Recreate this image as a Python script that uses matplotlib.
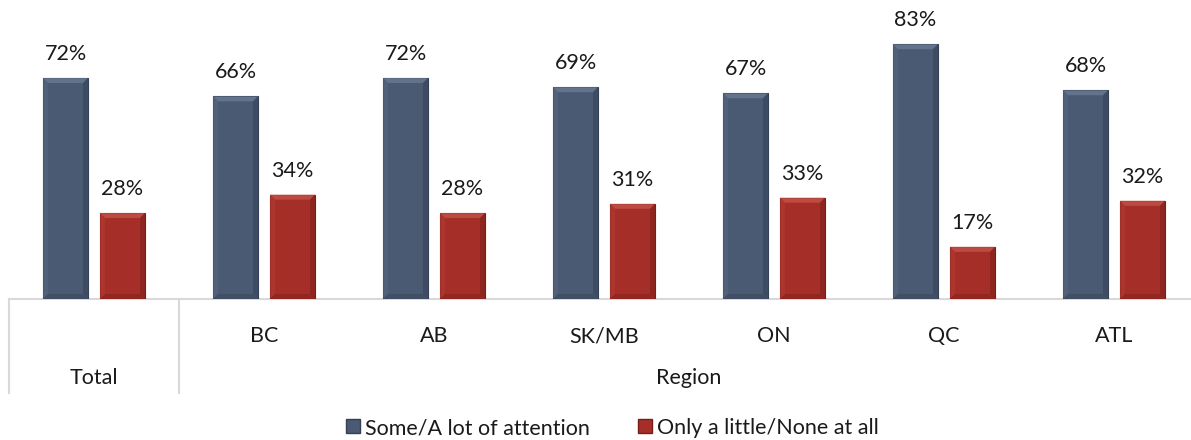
import matplotlib
matplotlib.use("Agg")
import matplotlib.pyplot as plt
from matplotlib.patches import Polygon
from matplotlib.lines import Line2D

plt.rcParams['font.family'] = ['Lato', 'DejaVu Sans']

categories = ["Total", "BC", "AB", "SK/MB", "ON", "QC", "ATL"]
groups = [("Total", 0, 1), ("Region", 1, 7)]
series_names = ["Some/A lot of attention", "Only a little/None at all"]
attention = [72, 66, 72, 69, 67, 83, 68]
little_none = [28, 34, 28, 31, 33, 17, 32]

palette = {
    "blue": dict(main="#4a5a72", top="#6f7f96", left="#55657d", right="#3a475d", bottom="#3e4b61", edge="#334055"),
    "red": dict(main="#a52e28", top="#c9584e", left="#af3831", right="#85221d", bottom="#8a231e", edge="#7a1c18"),
}

W, H = 1191, 440
fig = plt.figure(figsize=(W / 100, H / 100), dpi=100)
left_px, right_px, base_px, top_px = 9, 1199, 299, 10
ax = fig.add_axes([left_px / W, 1 - base_px / H, (right_px - left_px) / W, (base_px - top_px) / H])
ax.set_xlim(0, len(categories))
px_per_pct = 3.07
ax.set_ylim(0, (base_px - top_px) / px_per_pct)
ax.axis("off")

xunit = (right_px - left_px) / len(categories)  # pixels per category
bar_w = 45 / xunit
offset = 28.5 / xunit
bev_x = 5 / xunit
bev_y = 5 / px_per_pct


def bevel_bar(x0, h, col):
    c = palette[col]
    ax.bar(x0, h, width=bar_w, align="edge", color=c["main"], edgecolor=c["edge"], linewidth=0.8, zorder=2)
    x1 = x0 + bar_w
    faces = [
        ([(x0, h), (x1, h), (x1 - bev_x, h - bev_y), (x0 + bev_x, h - bev_y)], c["top"]),
        ([(x0, 0), (x0, h), (x0 + bev_x, h - bev_y), (x0 + bev_x, bev_y)], c["left"]),
        ([(x1, 0), (x1, h), (x1 - bev_x, h - bev_y), (x1 - bev_x, bev_y)], c["right"]),
        ([(x0, 0), (x1, 0), (x1 - bev_x, bev_y), (x0 + bev_x, bev_y)], c["bottom"]),
    ]
    for pts, fc in faces:
        ax.add_patch(Polygon(pts, closed=True, facecolor=fc, edgecolor="none", zorder=3, alpha=0.7))


for i, (a, b) in enumerate(zip(attention, little_none)):
    cx = i + 0.5
    bevel_bar(cx - offset - bar_w / 2, a, "blue")
    bevel_bar(cx + offset - bar_w / 2, b, "red")
    for xc, v in ((cx - offset, a), (cx + offset, b)):
        ax.annotate(f"{v}%", (xc, v), xytext=(0, 10), textcoords="offset points",
                    ha="center", va="bottom", fontsize=15.5, color="#1a1a1a")

# category table below the axis
line_c = "#d9d9d9"
trans = ax.get_xaxis_transform()
ax.plot([0, len(categories)], [0, 0], color=line_c, lw=1.5, transform=trans, clip_on=False, zorder=1)
table_bottom = -(393 - base_px) / (base_px - top_px)
for xb in (0, 1):
    ax.plot([xb, xb], [0, table_bottom], color=line_c, lw=1.5, transform=trans, clip_on=False)

cat_y = -(336 - base_px) / (base_px - top_px)
grp_y = -(378 - base_px) / (base_px - top_px)
for i, name in enumerate(categories):
    if name != "Total":
        ax.text(i + 0.5, cat_y, name, transform=trans, ha="center", va="center", fontsize=15.5, color="#1a1a1a")
for name, s, e in groups:
    ax.text((s + e) / 2, grp_y, name, transform=trans, ha="center", va="center", fontsize=15.5, color="#1a1a1a")

handles = [
    Line2D([], [], marker="s", linestyle="none", markersize=10, markerfacecolor=palette["blue"]["main"],
           markeredgecolor=palette["blue"]["edge"]),
    Line2D([], [], marker="s", linestyle="none", markersize=10, markerfacecolor=palette["red"]["main"],
           markeredgecolor=palette["red"]["edge"]),
]
fig.legend(handles, series_names, loc="center", bbox_to_anchor=(611 / W, 1 - 428 / H), ncol=2,
           frameon=False, fontsize=15.5, handletextpad=0.1, handlelength=0.9, columnspacing=2.1,
           labelcolor="#1a1a1a", borderaxespad=0, borderpad=0)

fig.savefig("out.png", dpi=100)
